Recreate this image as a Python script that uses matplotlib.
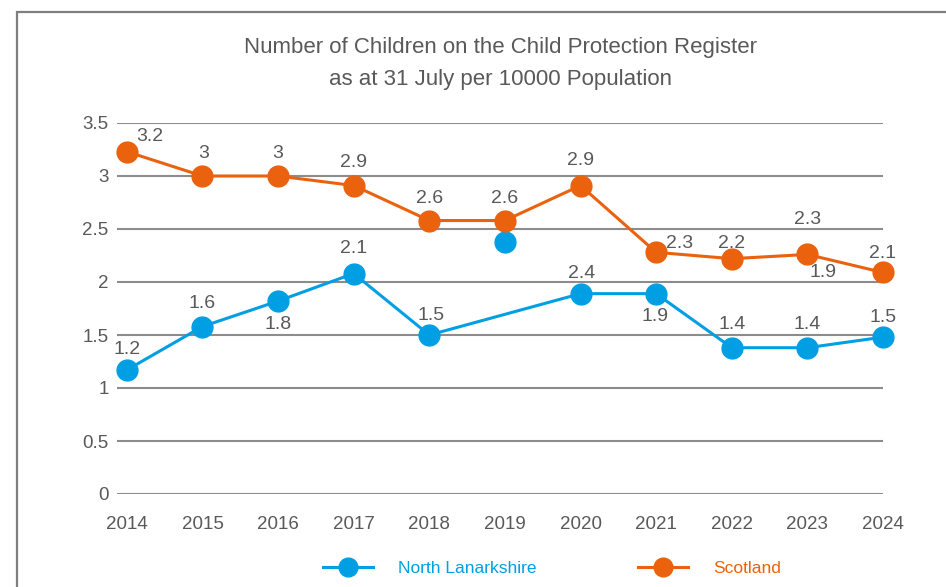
import matplotlib
matplotlib.use('Agg')
from matplotlib import pyplot as plt
from matplotlib.patches import Rectangle
import numpy as np

# data
years = [2014, 2015, 2016, 2017, 2018, 2019, 2020, 2021, 2022, 2023, 2024]
north_lanarkshire = [1.17, 1.58, 1.82, 2.08, 1.50, 2.38, 1.89, 1.89, 1.38, 1.38, 1.48]
scotland = [3.23, 3.00, 3.00, 2.91, 2.58, 2.58, 2.91, 2.28, 2.22, 2.26, 2.09]
# the 2019 North Lanarkshire point is not joined to the line in the original
nl_joined = [True, True, True, True, True, False, True, True, True, True, True]

y_ticks = [0, 0.5, 1, 1.5, 2, 2.5, 3, 3.5]
y_tick_labels = ['0', '0.5', '1', '1.5', '2', '2.5', '3', '3.5']

# data labels as printed on the chart: (text, year)
nl_labels = [('1.2', 2014), ('1.6', 2015), ('1.8', 2016), ('2.1', 2017),
             ('1.5', 2018), ('2.4', 2020), ('1.9', 2021), ('1.4', 2022),
             ('1.4', 2023), ('1.5', 2024)]
sc_labels = [('3.2', 2014), ('3', 2015), ('3', 2016), ('2.9', 2017),
             ('2.6', 2018), ('2.6', 2019), ('2.9', 2020), ('2.3', 2021),
             ('2.2', 2022), ('2.3', 2023), ('1.9', 2023), ('2.1', 2024)]
# label offsets in pixels (dx, dy)
nl_offsets = [(0, 20), (0, 23), (0, -23), (0, 25), (2, 20), (1, 20),
              (-1, -23), (0, 23), (0, 23), (0, 20)]
sc_offsets = [(23, 15), (1, 22), (0, 22), (0, 23), (0, 22), (0, 22),
              (0, 25), (23, 9), (0, 15), (0, 35), (16, -18), (0, 19)]

blue = '#009FE3'
orange = '#EA620E'
grey_text = '#595959'
plt.rcParams['font.family'] = ['Liberation Sans', 'DejaVu Sans']

fig = plt.figure(figsize=(9.46, 5.87), dpi=100)
ax = fig.add_axes([117 / 946, 1 - 494 / 587, (883 - 117) / 946, (494 - 123) / 587])

# gray frame round the chart (only left and top are visible)
fig.patches.append(Rectangle((17 / 946, -0.1), 1.2, 1 - 12 / 587 + 0.1,
                             transform=fig.transFigure, fill=False,
                             edgecolor='#7f7f7f', lw=1.6))

for y in y_ticks:
    ax.axhline(y, color='#8c8c8c', lw=1.5, zorder=1)

yr = np.array(years, dtype=float)
nl = np.array(north_lanarkshire)
sc = np.array(scotland)
mask = np.array(nl_joined)

ax.plot(yr[mask], nl[mask], color=blue, lw=2.2, marker='o', ms=15,
        zorder=3, clip_on=False, label='North Lanarkshire')
ax.plot(yr[~mask], nl[~mask], color=blue, lw=0, marker='o', ms=15,
        zorder=3, clip_on=False)
ax.plot(yr, sc, color=orange, lw=2.2, marker='o', ms=15, zorder=3,
        clip_on=False, label='Scotland')

px = 72 / 100.0
for (txt, x), (dx, dy) in zip(nl_labels, nl_offsets):
    ax.annotate(txt, (x, nl[years.index(x)]), xytext=(dx * px, dy * px),
                textcoords='offset points', ha='center', va='center',
                fontsize=14, color=grey_text, zorder=4)
for (txt, x), (dx, dy) in zip(sc_labels, sc_offsets):
    ax.annotate(txt, (x, sc[years.index(x)]), xytext=(dx * px, dy * px),
                textcoords='offset points', ha='center', va='center',
                fontsize=14, color=grey_text, zorder=4)

ax.set_xlim(2013.87, 2024.0)
ax.set_ylim(0, 3.5)
ax.set_yticks(y_ticks)
ax.set_yticklabels(y_tick_labels)
ax.set_xticks(years)
ax.set_xticklabels([str(y) for y in years])
ax.tick_params(axis='both', length=0, labelsize=13.5, labelcolor=grey_text)
ax.tick_params(axis='x', pad=16)
ax.tick_params(axis='y', pad=6)
for s in ax.spines.values():
    s.set_visible(False)
ax.patch.set_alpha(0)

fig.text(500 / 946, 1 - 47 / 587, 'Number of Children on the Child Protection Register',
         ha='center', va='center', fontsize=16, color=grey_text)
fig.text(500 / 946, 1 - 80 / 587, 'as at 31 July per 10000 Population',
         ha='center', va='center', fontsize=16, color=grey_text)

leg = fig.legend(loc='center', bbox_to_anchor=(552 / 946, 1 - 568 / 587), ncol=2,
                 frameon=False, fontsize=12.5, labelcolor='linecolor',
                 handlelength=2.9, columnspacing=5.8, handletextpad=1.45,
                 markerscale=0.9)

fig.savefig('out.png', dpi=100)
